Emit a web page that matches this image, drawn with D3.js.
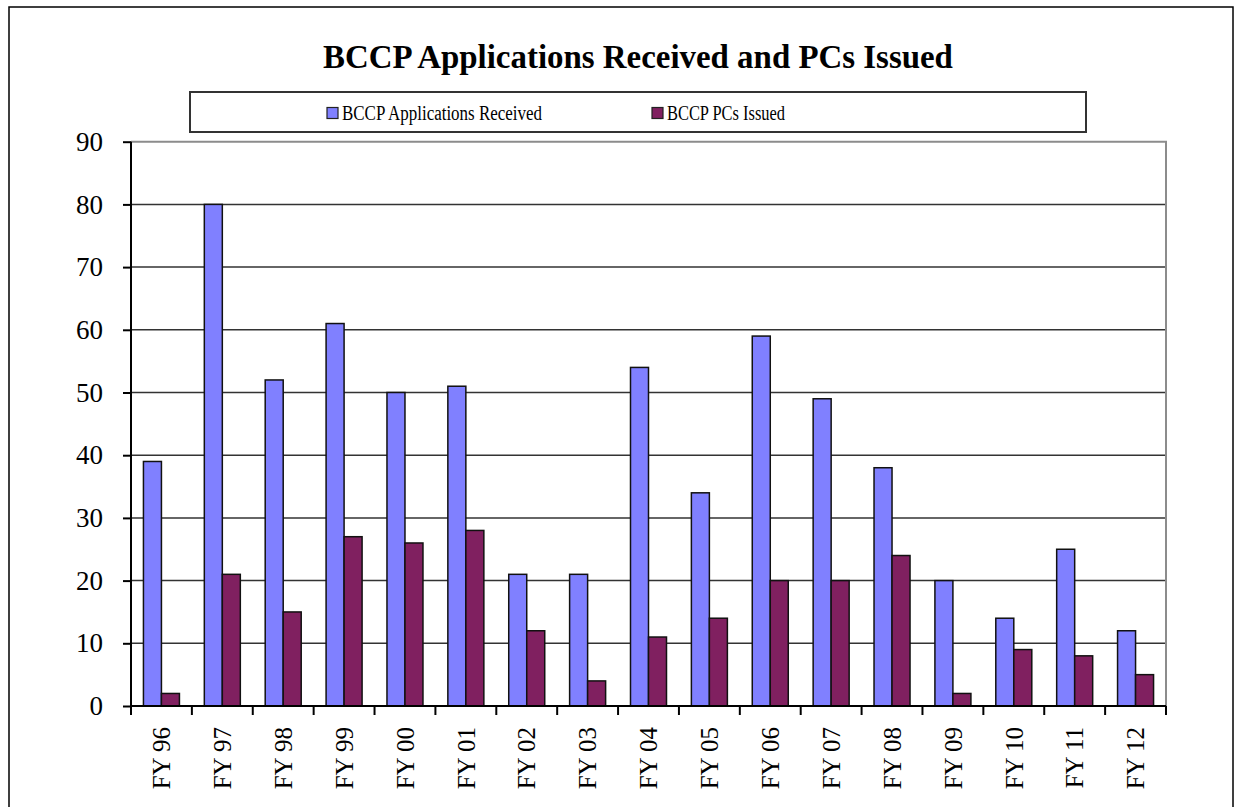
<!DOCTYPE html>
<html>
<head>
<meta charset="utf-8">
<script src="https://cdn.jsdelivr.net/npm/d3@7"></script>
<style>
  html, body { margin: 0; padding: 0; background: #fff; }
  svg { display: block; }
</style>
</head>
<body>
<svg id="chart" width="1235" height="807"></svg>
<script>
const title = "BCCP Applications Received and PCs Issued";
const categories = ["FY 96","FY 97","FY 98","FY 99","FY 00","FY 01","FY 02","FY 03","FY 04","FY 05","FY 06","FY 07","FY 08","FY 09","FY 10","FY 11","FY 12"];
const seriesNames = ["BCCP Applications Received", "BCCP PCs Issued"];
const applications = [39, 80, 52, 61, 50, 51, 21, 21, 54, 34, 59, 49, 38, 20, 14, 25, 12];
const pcsIssued = [2, 21, 15, 27, 26, 28, 12, 4, 11, 14, 20, 20, 24, 2, 9, 8, 5];
const yTicks = [0, 10, 20, 30, 40, 50, 60, 70, 80, 90];
const colors = ["#8080ff", "#802060"];

const svg = d3.select("#chart");
const plot = { left: 131, right: 1166, top: 141.7, bottom: 706 };

// outer frame
svg.append("rect").attr("x", 9).attr("y", 7).attr("width", 1224).attr("height", 810)
  .attr("fill", "#fff").attr("stroke", "#000").attr("stroke-width", 1.5);

// title
const t = svg.append("text").attr("x", 638).attr("y", 68).attr("text-anchor", "middle")
  .attr("font-family", "Liberation Serif, serif").attr("font-weight", "bold")
  .attr("font-size", 30).attr("fill", "#000").text(title);
const tw = t.node().getComputedTextLength();
if (tw > 0) t.attr("font-size", 30 * 630 / tw);

// legend
const lg = svg.append("g");
lg.append("rect").attr("x", 190).attr("y", 92).attr("width", 896).attr("height", 40)
  .attr("fill", "#fff").attr("stroke", "#333").attr("stroke-width", 2);
const legendX = [327, 652];
const legendTextW = [200, 118];
seriesNames.forEach((name, i) => {
  lg.append("rect").attr("x", legendX[i]).attr("y", 107.5).attr("width", 11).attr("height", 11)
    .attr("fill", colors[i]).attr("stroke", "#222").attr("stroke-width", 1.2);
  const lt = lg.append("text").attr("x", legendX[i] + 15).attr("y", 120)
    .attr("font-family", "Liberation Serif, serif").attr("font-size", 20)
    .attr("fill", "#000").text(name);
  const w = lt.node().getComputedTextLength();
  if (w > legendTextW[i]) lt.attr("textLength", legendTextW[i]).attr("lengthAdjust", "spacingAndGlyphs");
});

// scales
const x = d3.scaleBand().domain(categories).range([plot.left, plot.right]).paddingInner(0).paddingOuter(0);
const y = d3.scaleLinear().domain([0, 90]).range([plot.bottom, plot.top]);
const barW = 18;

// gridlines
svg.append("g").selectAll("line").data(yTicks.filter(d => d > 0 && d < 90)).join("line")
  .attr("x1", plot.left).attr("x2", plot.right)
  .attr("y1", d => y(d)).attr("y2", d => y(d))
  .attr("stroke", "#333").attr("stroke-width", 1.5);

// plot border top/right gray
svg.append("path")
  .attr("d", `M${plot.left},${y(90)}H${plot.right}V${plot.bottom}`)
  .attr("fill", "none").attr("stroke", "#8c8c8c").attr("stroke-width", 2);

// bars
const series = [applications, pcsIssued];
series.forEach((vals, si) => {
  svg.append("g").selectAll("rect").data(categories).join("rect")
    .attr("x", (c) => x(c) + x.bandwidth() / 2 - barW + si * barW)
    .attr("y", (c, i) => y(vals[i]))
    .attr("width", barW)
    .attr("height", (c, i) => y(0) - y(vals[i]))
    .attr("fill", colors[si]).attr("stroke", "#111").attr("stroke-width", 1.5);
});

// y axis
const yAxis = svg.append("g").attr("transform", `translate(${plot.left},0)`)
  .call(d3.axisLeft(y).tickValues(yTicks).tickSize(8).tickPadding(20).tickFormat(d3.format("d")));
yAxis.select(".domain").attr("stroke", "#000").attr("stroke-width", 2)
  .attr("d", `M0,${plot.top}V${plot.bottom}`);
yAxis.selectAll(".tick line").attr("stroke", "#000").attr("stroke-width", 2);
yAxis.selectAll(".tick text").attr("font-family", "Liberation Serif, serif").attr("font-size", 27)
  .attr("fill", "#000");

// x axis
const xAxis = svg.append("g").attr("transform", `translate(0,${plot.bottom})`)
  .call(d3.axisBottom(x).tickSize(0).tickFormat(d => d));
xAxis.select(".domain").attr("stroke", "#000").attr("stroke-width", 2)
  .attr("d", `M${plot.left},0H${plot.right}`);
xAxis.selectAll(".tick text")
  .attr("font-family", "Liberation Serif, serif").attr("font-size", 25).attr("fill", "#000")
  .attr("text-anchor", "end")
  .attr("transform", "rotate(-90)")
  .attr("x", -21).attr("y", 0).attr("dy", "0.35em");
// category boundary ticks
const bounds = categories.map(c => x(c)).concat([plot.right]);
xAxis.append("g").selectAll("line").data(bounds).join("line")
  .attr("x1", d => d).attr("x2", d => d).attr("y1", 0).attr("y2", 9)
  .attr("stroke", "#000").attr("stroke-width", 2);
</script>
</body>
</html>
